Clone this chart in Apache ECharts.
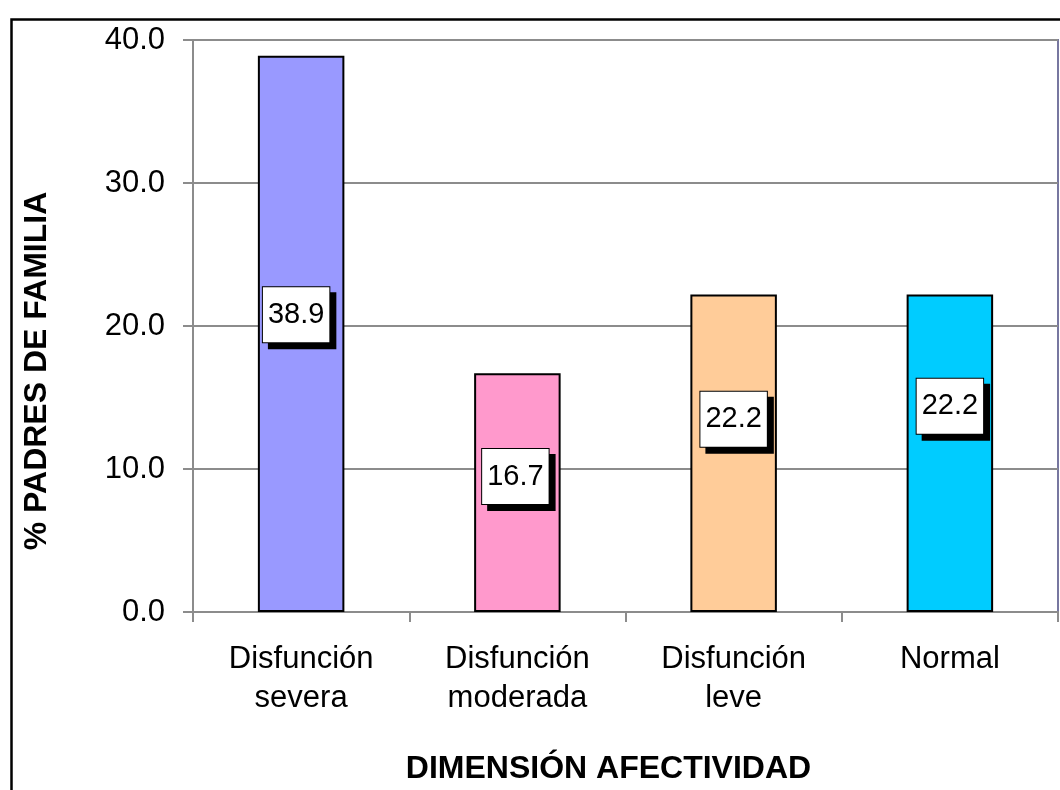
<!DOCTYPE html>
<html>
<head>
<meta charset="utf-8">
<script src="https://cdn.jsdelivr.net/npm/echarts@6/dist/echarts.min.js"></script>
<style>
html,body{margin:0;padding:0;background:#fff;}
#chart{width:1060px;height:790px;}
</style>
</head>
<body>
<div id="chart"></div>
<script>
var categories = ['Disfunción\nsevera', 'Disfunción\nmoderada', 'Disfunción\nleve', 'Normal'];
var values = [38.9, 16.7, 22.2, 22.2];
var barColors = ['#9999FF', '#FF99CC', '#FFCC99', '#00CCFF'];
var yTicks = { min: 0, max: 40, interval: 10 };
var xTitle = 'DIMENSIÓN AFECTIVIDAD';
var yTitle = '% PADRES DE FAMILIA';
// label placement offsets (layout only)
var labelOffsets = [[-5, -19], [-2, -16], [0, -34], [0, -47]];

var chart = echarts.init(document.getElementById('chart'));
var font = '"Liberation Sans", Arial, sans-serif';

var data = values.map(function (v, i) {
  return {
    value: v,
    itemStyle: { color: barColors[i] },
    label: { offset: labelOffsets[i] }
  };
});

chart.setOption({
  animation: false,
  backgroundColor: '#ffffff',
  grid: {
    left: 193, top: 40, right: 2, bottom: 178,
    show: true, borderColor: '#7777a0', borderWidth: 2, backgroundColor: 'transparent'
  },
  graphic: [{
    type: 'rect', left: 9, top: 17,
    shape: { width: 1200, height: 900 },
    style: { fill: 'none', stroke: '#000', lineWidth: 2.5 },
    silent: true
  }],
  xAxis: {
    type: 'category',
    data: categories,
    boundaryGap: true,
    axisLine: { lineStyle: { color: '#8c8c8c', width: 2 } },
    axisTick: { show: true, length: 10, lineStyle: { color: '#8c8c8c', width: 2 } },
    axisLabel: { color: '#000', fontSize: 31, fontFamily: font, lineHeight: 39, margin: 28, interval: 0 },
    name: xTitle,
    nameLocation: 'middle',
    nameGap: 141,
    nameTextStyle: { color: '#000', fontSize: 32, fontWeight: 'bold', fontFamily: font, padding: [0, 34, 0, 0] }
  },
  yAxis: {
    type: 'value',
    min: yTicks.min, max: yTicks.max, interval: yTicks.interval,
    axisLine: { show: true, lineStyle: { color: '#8c8c8c', width: 2 } },
    axisTick: { show: true, length: 10, lineStyle: { color: '#8c8c8c', width: 2 } },
    splitLine: { show: true, lineStyle: { color: '#8c8c8c', width: 2 } },
    axisLabel: {
      color: '#000', fontSize: 31, fontFamily: font, margin: 28,
      formatter: function (v) { return v.toFixed(1); }
    },
    name: yTitle,
    nameLocation: 'middle',
    nameRotate: 90,
    nameGap: 140,
    nameTextStyle: { color: '#000', fontSize: 32, fontWeight: 'bold', fontFamily: font, padding: [0, 90, 0, 0] }
  },
  series: [{
    type: 'bar',
    data: data,
    barCategoryGap: '60%',
    itemStyle: { borderColor: '#000', borderWidth: 2 },
    label: {
      show: true,
      position: 'inside',
      color: '#000',
      fontSize: 29,
      fontFamily: font,
      lineHeight: 33,
      backgroundColor: '#ffffff',
      borderColor: '#000',
      borderWidth: 1,
      padding: [11, 5, 11, 5],
      shadowColor: '#000',
      shadowBlur: 0,
      shadowOffsetX: 6,
      shadowOffsetY: 6,
      formatter: function (p) { return p.value.toFixed(1); }
    }
  }]
});
</script>
</body>
</html>
